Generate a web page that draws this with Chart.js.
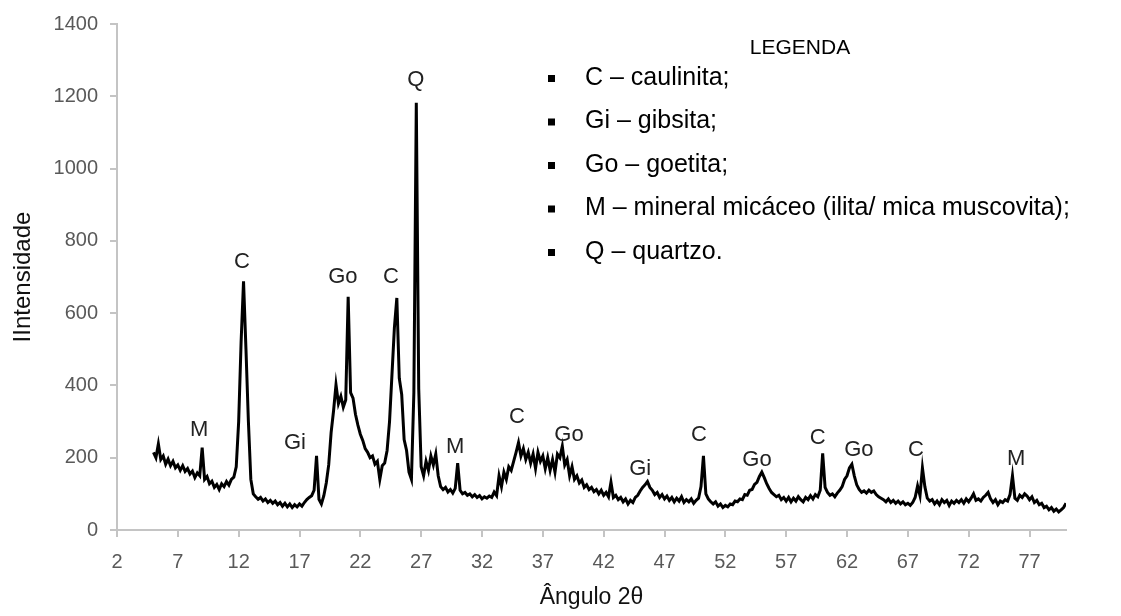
<!DOCTYPE html>
<html lang="pt">
<head>
<meta charset="utf-8">
<title>Difratograma</title>
<script src="https://cdn.jsdelivr.net/npm/chart.js@4.4.1/dist/chart.umd.min.js"></script>
<style>
  html, body { margin: 0; padding: 0; background: #fff; }
  #wrap { width: 1121px; height: 616px; position: relative; }
</style>
</head>
<body>
<div id="wrap"><canvas id="chart"></canvas></div>
<script>
// angle 2θ (degrees)
const angles = [
  5.0, 5.2, 5.4, 5.6, 5.8, 6.0, 6.2, 6.4, 6.6, 6.8,
  7.0, 7.2, 7.4, 7.6, 7.8, 8.0, 8.2, 8.4, 8.6, 8.8,
  9.0, 9.2, 9.4, 9.6, 9.8, 10.0, 10.2, 10.4, 10.6, 10.8,
  11.0, 11.2, 11.4, 11.6, 11.8, 12.0, 12.2, 12.4, 12.6, 12.8,
  13.0, 13.2, 13.4, 13.6, 13.8, 14.0, 14.2, 14.4, 14.6, 14.8,
  15.0, 15.2, 15.4, 15.6, 15.8, 16.0, 16.2, 16.4, 16.6, 16.8,
  17.0, 17.2, 17.4, 17.6, 17.8, 18.0, 18.2, 18.4, 18.6, 18.8,
  19.0, 19.2, 19.4, 19.6, 19.8, 20.0, 20.2, 20.4, 20.6, 20.8,
  21.0, 21.2, 21.4, 21.6, 21.8, 22.0, 22.2, 22.4, 22.6, 22.8,
  23.0, 23.2, 23.4, 23.6, 23.8, 24.0, 24.2, 24.4, 24.6, 24.8,
  25.0, 25.2, 25.4, 25.6, 25.8, 26.0, 26.2, 26.4, 26.6, 26.8,
  27.0, 27.2, 27.4, 27.6, 27.8, 28.0, 28.2, 28.4, 28.6, 28.8,
  29.0, 29.2, 29.4, 29.6, 29.8, 30.0, 30.2, 30.4, 30.6, 30.8,
  31.0, 31.2, 31.4, 31.6, 31.8, 32.0, 32.2, 32.4, 32.6, 32.8,
  33.0, 33.2, 33.4, 33.6, 33.8, 34.0, 34.2, 34.4, 34.6, 34.8,
  35.0, 35.2, 35.4, 35.6, 35.8, 36.0, 36.2, 36.4, 36.6, 36.8,
  37.0, 37.2, 37.4, 37.6, 37.8, 38.0, 38.2, 38.4, 38.6, 38.8,
  39.0, 39.2, 39.4, 39.6, 39.8, 40.0, 40.2, 40.4, 40.6, 40.8,
  41.0, 41.2, 41.4, 41.6, 41.8, 42.0, 42.2, 42.4, 42.6, 42.8,
  43.0, 43.2, 43.4, 43.6, 43.8, 44.0, 44.2, 44.4, 44.6, 44.8,
  45.0, 45.2, 45.4, 45.6, 45.8, 46.0, 46.2, 46.4, 46.6, 46.8,
  47.0, 47.2, 47.4, 47.6, 47.8, 48.0, 48.2, 48.4, 48.6, 48.8,
  49.0, 49.2, 49.4, 49.6, 49.8, 50.0, 50.2, 50.4, 50.6, 50.8,
  51.0, 51.2, 51.4, 51.6, 51.8, 52.0, 52.2, 52.4, 52.6, 52.8,
  53.0, 53.2, 53.4, 53.6, 53.8, 54.0, 54.2, 54.4, 54.6, 54.8,
  55.0, 55.2, 55.4, 55.6, 55.8, 56.0, 56.2, 56.4, 56.6, 56.8,
  57.0, 57.2, 57.4, 57.6, 57.8, 58.0, 58.2, 58.4, 58.6, 58.8,
  59.0, 59.2, 59.4, 59.6, 59.8, 60.0, 60.2, 60.4, 60.6, 60.8,
  61.0, 61.2, 61.4, 61.6, 61.8, 62.0, 62.2, 62.4, 62.6, 62.8,
  63.0, 63.2, 63.4, 63.6, 63.8, 64.0, 64.2, 64.4, 64.6, 64.8,
  65.0, 65.2, 65.4, 65.6, 65.8, 66.0, 66.2, 66.4, 66.6, 66.8,
  67.0, 67.2, 67.4, 67.6, 67.8, 68.0, 68.2, 68.4, 68.6, 68.8,
  69.0, 69.2, 69.4, 69.6, 69.8, 70.0, 70.2, 70.4, 70.6, 70.8,
  71.0, 71.2, 71.4, 71.6, 71.8, 72.0, 72.2, 72.4, 72.6, 72.8,
  73.0, 73.2, 73.4, 73.6, 73.8, 74.0, 74.2, 74.4, 74.6, 74.8,
  75.0, 75.2, 75.4, 75.6, 75.8, 76.0, 76.2, 76.4, 76.6, 76.8,
  77.0, 77.2, 77.4, 77.6, 77.8, 78.0, 78.2, 78.4, 78.6, 78.8,
  79.0, 79.2, 79.4, 79.6, 79.8, 80.0
];

// intensity, same order as angles
const intensity = [
  215, 200, 238, 195, 205, 182, 196, 178, 190, 172,
  180, 165, 178, 162, 170, 155, 163, 145, 158, 150,
  228, 140, 148, 128, 135, 118, 126, 112, 128, 120,
  134, 124, 140, 146, 175, 300, 520, 688, 500, 300,
  140, 100, 92, 85, 90, 80, 86, 76, 82, 74,
  80, 70, 76, 66, 74, 64, 72, 62, 70, 64,
  72, 66, 76, 84, 90, 95, 110, 205, 85, 72,
  95, 130, 180, 270, 330, 402, 350, 370, 340, 360,
  645, 380, 365, 320, 290, 265, 248, 225, 215, 200,
  205, 182, 190, 140, 178, 185, 220, 300, 430, 560,
  642, 420, 375, 250, 220, 160, 140, 380, 1182, 390,
  175, 150, 190, 165, 205, 180, 210, 150, 120, 112,
  118, 105, 112, 102, 115, 185, 110, 100, 104, 96,
  100, 92, 98, 90, 95, 86, 92, 88, 94, 90,
  105, 95, 150, 120, 160, 140, 175, 165, 190, 215,
  242, 205, 225, 195, 215, 185, 210, 170, 215, 190,
  205, 170, 200, 165, 195, 160, 210, 200, 232, 180,
  195, 150, 175, 140, 150, 130, 138, 118, 125, 112,
  118, 106, 112, 100, 110, 96, 104, 92, 132, 90,
  96, 84, 90, 78, 86, 72, 82, 76, 90, 96,
  108, 118, 125, 134, 118, 110, 98, 104, 90, 98,
  86, 94, 82, 90, 78, 88, 80, 92, 76, 84,
  78, 86, 74, 82, 88, 120, 205, 100, 86, 78,
  72, 78, 66, 72, 62, 68, 64, 72, 70, 80,
  78, 86, 84, 98, 96, 110, 112, 126, 132, 148,
  160, 145, 128, 115, 104, 98, 92, 96, 84, 90,
  80, 90, 78, 88, 80, 92, 84, 78, 90, 84,
  95, 86, 98, 92, 110, 212, 118, 104, 96, 100,
  92, 102, 110, 120, 140, 150, 172, 182, 150, 125,
  112, 104, 108, 102, 110, 104, 108, 98, 92, 88,
  84, 78, 86, 76, 82, 74, 80, 72, 78, 70,
  74, 68, 76, 90, 122, 95, 172, 120, 88, 80,
  84, 72, 80, 70, 84, 76, 82, 68, 80, 74,
  82, 76, 84, 74, 86, 78, 88, 100, 82, 86,
  80, 90, 96, 104, 86, 76, 84, 70, 80, 76,
  84, 80, 98, 150, 88, 82, 96, 90, 100, 94,
  84, 92, 76, 82, 70, 74, 62, 66, 56, 62,
  52, 58, 50, 56, 62, 74
];

const xTicks = [2, 7, 12, 17, 22, 27, 32, 37, 42, 47, 52, 57, 62, 67, 72, 77];
const yTicks = [0, 200, 400, 600, 800, 1000, 1200, 1400];

// mineral tags written over the peaks
const peakNames  = ['M', 'C', 'Gi', 'Go', 'C', 'Q', 'M', 'C', 'Go', 'Gi', 'C', 'Go', 'C', 'Go', 'C', 'M'];
const peakAngles = [8.75, 12.27, 16.63, 20.57, 24.52, 26.55, 29.8, 34.88, 39.15, 45.0, 49.83, 54.6, 59.6, 62.98, 67.67, 75.9];
const peakLevels = [276, 741, 240, 700, 700, 1244, 231, 313, 262, 170, 263, 193, 255, 222, 222, 197];

const legendTitle = 'LEGENDA';
const legendItems = [
  'C – caulinita;',
  'Gi – gibsita;',
  'Go – goetita;',
  'M – mineral micáceo (ilita/ mica muscovita);',
  'Q – quartzo.'
];

const peakText = {
  id: 'peakText',
  afterDatasetsDraw(chart) {
    const ctx = chart.ctx;
    const xs = chart.scales.x, ys = chart.scales.y;
    ctx.save();
    ctx.font = '22px "Liberation Sans", Arial, sans-serif';
    ctx.fillStyle = '#222';
    ctx.textAlign = 'center';
    ctx.textBaseline = 'middle';
    peakNames.forEach((name, i) => {
      ctx.fillText(name, xs.getPixelForValue(peakAngles[i]), ys.getPixelForValue(peakLevels[i]));
    });
    ctx.restore();
  }
};

const legendBox = {
  id: 'legendBox',
  afterDraw(chart) {
    const ctx = chart.ctx;
    ctx.save();
    ctx.fillStyle = '#000';
    ctx.textBaseline = 'middle';
    ctx.textAlign = 'center';
    ctx.font = '21px "Liberation Sans", Arial, sans-serif';
    ctx.fillText(legendTitle, 800, 48);
    ctx.textAlign = 'left';
    ctx.font = '25px "Liberation Sans", Arial, sans-serif';
    legendItems.forEach((txt, i) => {
      const y = 78 + i * 43.5;
      ctx.fillRect(548, y - 3, 7, 7);
      ctx.fillText(txt, 585, y);
    });
    ctx.restore();
  }
};

const axisGray = '#c4c4c4';
const tickFont = { family: '"Liberation Sans", Arial, sans-serif', size: 20 };

new Chart(document.getElementById('chart'), {
  type: 'line',
  data: {
    datasets: [{
      data: angles.map((a, i) => ({ x: a, y: intensity[i] })),
      borderColor: '#000',
      borderWidth: 3,
      pointRadius: 0,
      tension: 0,
      fill: false
    }]
  },
  options: {
    responsive: true,
    maintainAspectRatio: false,
    animation: false,
    layout: { padding: { top: 19, right: 55, bottom: 0, left: 0 } },
    plugins: { legend: { display: false }, tooltip: { enabled: false } },
    scales: {
      x: {
        type: 'linear',
        min: 2,
        max: 80,
        afterBuildTicks: s => { s.ticks = xTicks.map(v => ({ value: v })); },
        afterFit: s => { s.height = 86; },
        grid: { display: true, drawOnChartArea: false, drawTicks: true, tickLength: 7, color: axisGray, lineWidth: 2 },
        border: { display: true, color: axisGray, width: 2 },
        ticks: { color: '#595959', font: tickFont, padding: 13, maxRotation: 0, autoSkip: false, callback: v => String(v) },
        title: {
          display: true, text: 'Ângulo 2θ', color: '#111',
          font: { family: '"Liberation Sans", Arial, sans-serif', size: 23 },
          padding: { top: 0, bottom: 5 }
        }
      },
      y: {
        min: 0,
        max: 1400,
        afterBuildTicks: s => { s.ticks = yTicks.map(v => ({ value: v })); },
        afterFit: s => { s.width = 117; },
        grid: { display: true, drawOnChartArea: false, drawTicks: true, tickLength: 7, color: axisGray, lineWidth: 2 },
        border: { display: true, color: axisGray, width: 2 },
        ticks: { color: '#595959', font: tickFont, padding: 12, callback: v => String(v) },
        title: {
          display: true, text: 'IIntensidade', color: '#111',
          font: { family: '"Liberation Sans", Arial, sans-serif', size: 24 },
          padding: { top: 9, bottom: 0 }
        }
      }
    }
  },
  plugins: [peakText, legendBox]
});
</script>
</body>
</html>
